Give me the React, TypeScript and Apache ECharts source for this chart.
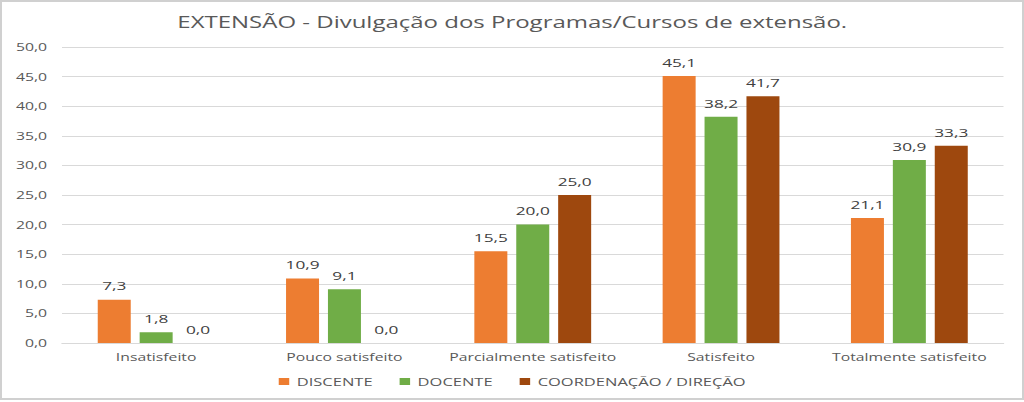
import React, { useEffect, useRef } from "react";
import * as echarts from "echarts";

const categories = ["Insatisfeito", "Pouco satisfeito", "Parcialmente satisfeito", "Satisfeito", "Totalmente satisfeito"];
const discente = [7.3, 10.9, 15.5, 45.1, 21.1];
const docente = [1.8, 9.1, 20.0, 38.2, 30.9];
const coordenacao = [0.0, 0.0, 25.0, 41.7, 33.3];
const seriesNames = ["DISCENTE", "DOCENTE", "COORDENAÇÃO / DIREÇÃO"];
const colors = ["#ED7D31", "#70AD47", "#9E480E"];
const titleText = "EXTENSÃO - Divulgação dos Programas/Cursos de extensão.";

const FONT = "'Open Sans', 'Noto Sans', sans-serif";
// The reference picture is horizontally stretched; reproduce that by
// laying the chart out narrower and stretching it with CSS.
const SX = 1.5;
const W = 1024 / SX;
const H = 402;

export default function App() {
  const ref = useRef<HTMLDivElement>(null);
  useEffect(() => {
    if (!ref.current) return;
    const chart = echarts.init(ref.current, null, { renderer: "svg" });
    const mk = (name: string, data: number[], color: string) => ({
      name,
      type: "bar",
      data,
      barWidth: 33 / SX,
      barGap: "27%",
      itemStyle: { color },
      label: {
        show: true,
        position: "top",
        distance: 8,
        color: "#404040",
        fontSize: 11.5,
        fontFamily: FONT,
        formatter: (p: any) => Number(p.value).toFixed(1).replace(".", ","),
      },
    });
    chart.setOption({
      animation: false,
      backgroundColor: "#ffffff",
      title: {
        text: titleText,
        left: "center",
        top: 9,
        textStyle: { fontSize: 16, fontWeight: "normal", color: "#595959", fontFamily: FONT },
      },
      legend: {
        data: seriesNames,
        bottom: 10,
        left: "center",
        itemWidth: 7,
        itemHeight: 7,
        itemGap: 18,
        itemStyle: { borderWidth: 0 },
        icon: "rect",
        textStyle: { fontSize: 11, color: "#595959", fontFamily: FONT },
      },
      grid: { left: 62 / SX, right: 21 / SX, top: 47, bottom: 59, containLabel: false },
      xAxis: {
        type: "category",
        data: categories,
        axisLine: { lineStyle: { color: "#d9d9d9" } },
        axisTick: { show: false },
        axisLabel: { color: "#595959", fontSize: 10.5, fontFamily: FONT, margin: 9, interval: 0 },
      },
      yAxis: {
        type: "value",
        min: 0,
        max: 50,
        interval: 5,
        axisLine: { show: false },
        axisTick: { show: false },
        splitLine: { lineStyle: { color: "#d9d9d9" } },
        axisLabel: {
          color: "#595959",
          fontSize: 10.5,
          fontFamily: FONT,
          margin: 10,
          formatter: (v: number) => v.toFixed(1).replace(".", ","),
        },
      },
      series: [
        mk(seriesNames[0], discente, colors[0]),
        mk(seriesNames[1], docente, colors[1]),
        mk(seriesNames[2], coordenacao, colors[2]),
      ],
    });
    return () => chart.dispose();
  }, []);
  return (
    <div
      style={{
        position: "fixed",
        left: 0,
        top: 0,
        width: 1024,
        height: 402,
        overflow: "hidden",
        background: "#ffffff",
      }}
    >
      <div
        ref={ref}
        style={{
          width: W,
          height: H,
          transform: `scaleX(${SX})`,
          transformOrigin: "0 0",
        }}
      />
      <div
        style={{
          position: "absolute",
          left: 0,
          top: 0,
          width: 1024,
          height: 400,
          boxSizing: "border-box",
          border: "2px solid #d0d0d0",
          pointerEvents: "none",
        }}
      />
    </div>
  );
}
